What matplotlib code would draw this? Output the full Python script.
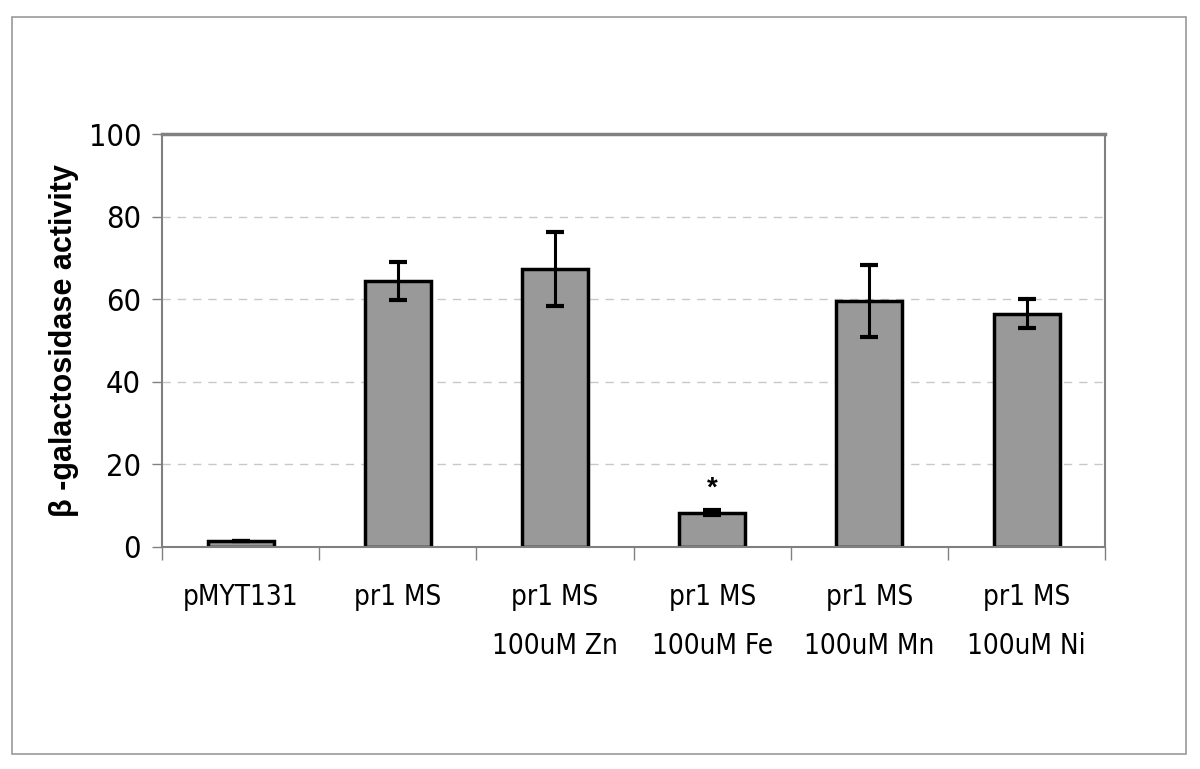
import matplotlib
matplotlib.use("Agg")
import matplotlib.pyplot as plt
import numpy as np
from matplotlib.patches import Rectangle

# data
labels = ["pMYT131", "pr1 MS", "pr1 MS\n100uM Zn", "pr1 MS\n100uM Fe",
          "pr1 MS\n100uM Mn", "pr1 MS\n100uM Ni"]
values = [1.5, 64.3, 67.3, 8.3, 59.6, 56.5]
errors = [0.0, 4.6, 9.0, 0.6, 8.8, 3.5]
yticks = [0, 20, 40, 60, 80, 100]

fig = plt.figure(figsize=(12, 7.69), dpi=100)
# grey frame round the whole figure
fig.patches.append(Rectangle((0.010, 0.020), 0.978, 0.958, transform=fig.transFigure,
                             fill=False, edgecolor="#999999", linewidth=1.2))

ax = fig.add_axes([0.135, 0.2887, 0.786, 0.537])
x = np.arange(len(labels))

# grid lines
ax.set_axisbelow(True)
ax.yaxis.grid(True, linestyle=(0, (6, 5)), color="#c8c8c8", linewidth=1)

ax.bar(x, values, width=0.42, color="#999999", edgecolor="black", linewidth=2.5)
ax.errorbar(x, values, yerr=errors, fmt="none", ecolor="black", elinewidth=2.2,
            capsize=6.5, capthick=3)

# significance marker on the Fe bar
ax.text(x[3], values[3] + errors[3] + 2.2, "*", ha="center", va="bottom",
        fontsize=20, fontweight="bold", family="Liberation Sans")

ax.set_xlim(-0.5, len(labels) - 0.5)
ax.set_ylim(0, 100)
ax.set_yticks(yticks)
ax.set_yticklabels([str(t) for t in yticks], fontsize=22, family="DejaVu Sans",
                   fontstretch="condensed")

# ticks at category boundaries, labels at centres
ax.set_xticks(np.arange(len(labels) + 1) - 0.5)
ax.set_xticklabels([])
ax.set_xticks(x, minor=True)
ax.set_xticklabels(labels, minor=True, fontsize=20, family="DejaVu Sans",
                   fontstretch="condensed", linespacing=1.95)
ax.tick_params(axis="x", which="major", length=9, color="#808080", width=1)
ax.tick_params(axis="x", which="minor", length=0, pad=26)
ax.tick_params(axis="y", length=7, color="#808080", width=1, pad=8)

for side in ["left", "bottom", "right", "top"]:
    ax.spines[side].set_color("#808080")
    ax.spines[side].set_linewidth(1.5)
ax.spines["top"].set_linewidth(2.5)

ax.set_ylabel("β -galactosidase activity", fontsize=22, fontweight="bold",
              family="Liberation Sans")
ax.yaxis.set_label_coords(-0.088, 0.5)

fig.savefig("out.png", dpi=100)
